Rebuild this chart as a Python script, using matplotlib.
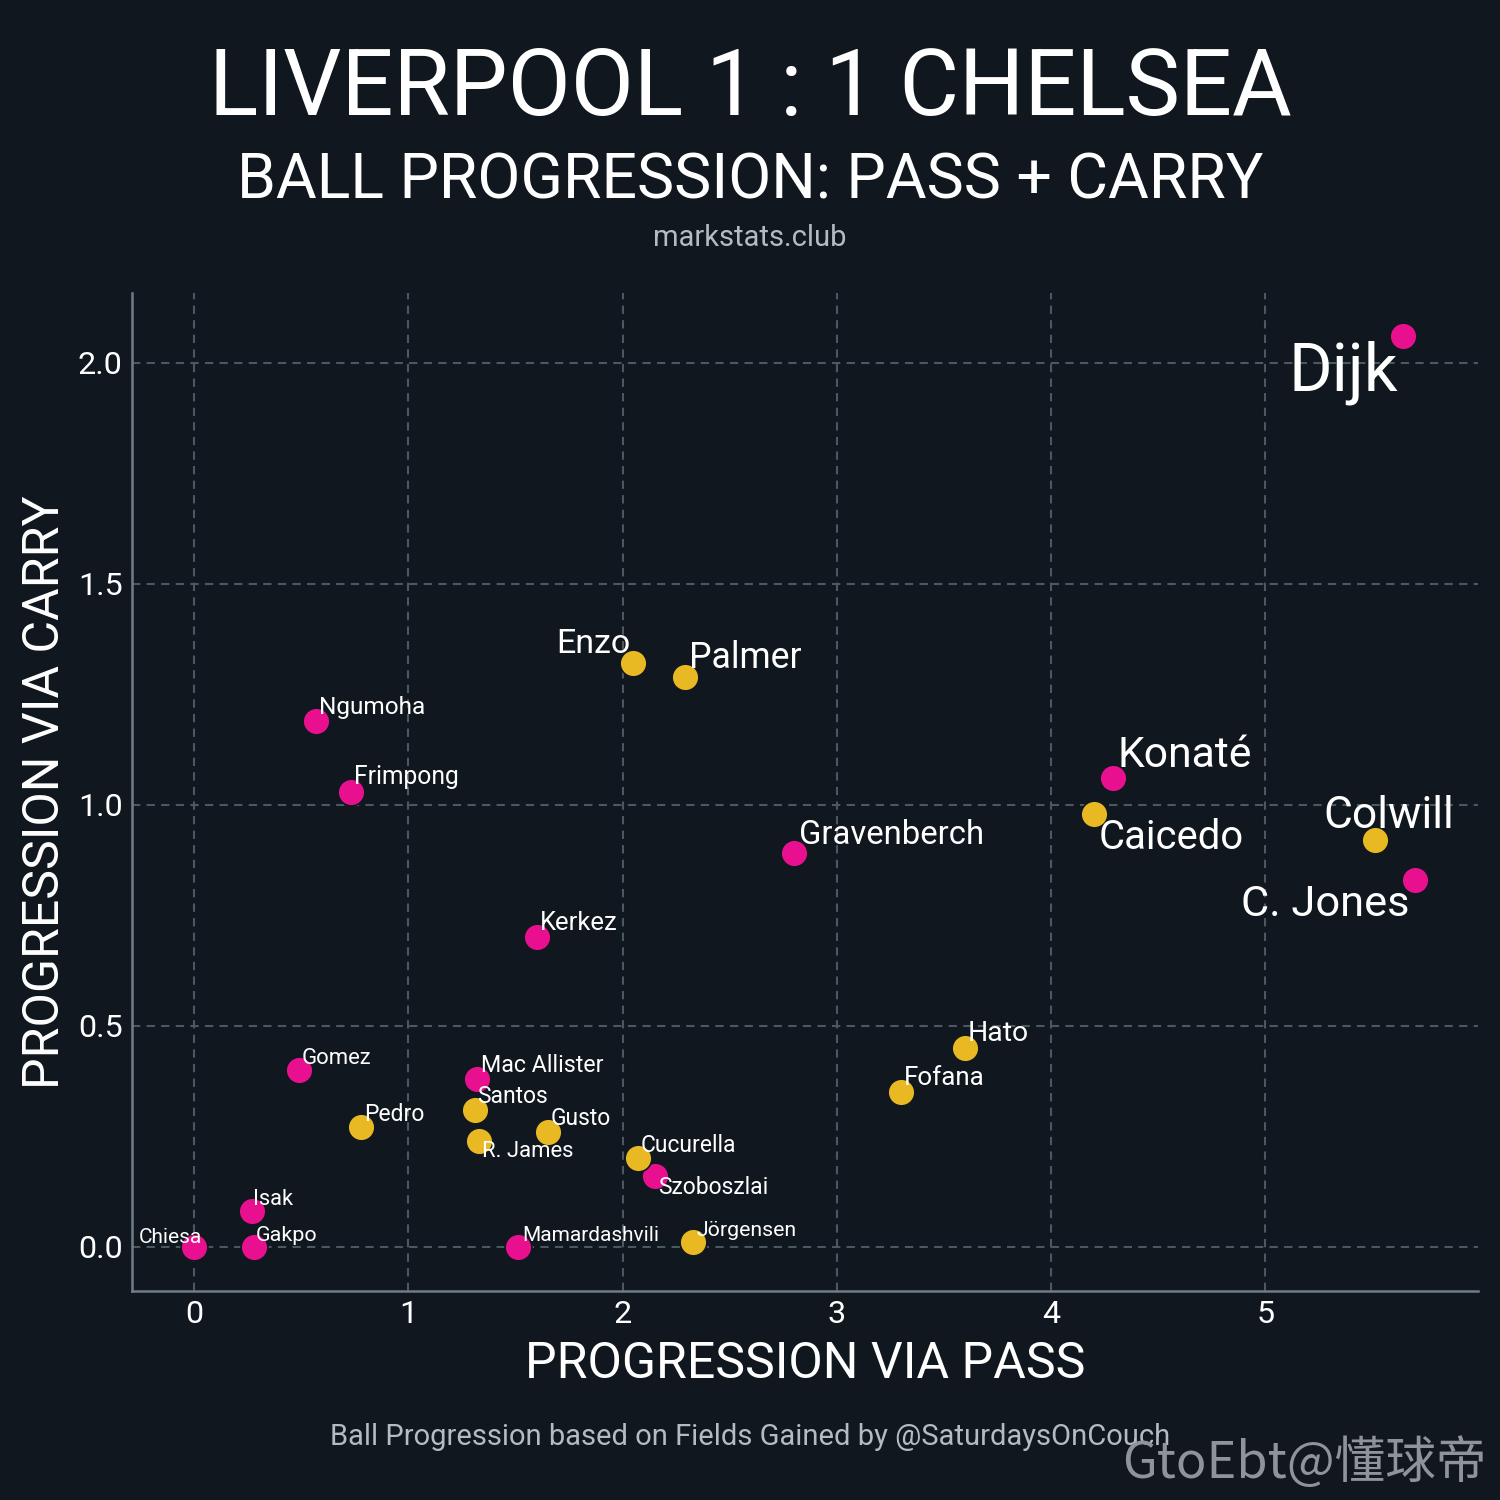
import matplotlib.pyplot as plt

# DATA --------------------------------------------------
liv_names = ['Dijk', 'C. Jones', 'Konaté', 'Gravenberch', 'Kerkez', 'Ngumoha',
             'Frimpong', 'Gomez', 'Mac Allister', 'Szoboszlai', 'Mamardashvili',
             'Isak', 'Gakpo', 'Chiesa']
liv_pass = [5.64, 5.70, 4.29, 2.80, 1.60, 0.57, 0.73, 0.49, 1.32, 2.15, 1.51, 0.27, 0.28, 0.0]
liv_carry = [2.06, 0.83, 1.06, 0.89, 0.70, 1.19, 1.03, 0.40, 0.38, 0.16, 0.0, 0.08, 0.0, 0.0]

che_names = ['Colwill', 'Caicedo', 'Palmer', 'Enzo', 'Hato', 'Fofana', 'Gusto',
             'Santos', 'R. James', 'Pedro', 'Cucurella', 'Jörgensen']
che_pass = [5.51, 4.20, 2.29, 2.05, 3.60, 3.30, 1.65, 1.31, 1.33, 0.78, 2.07, 2.33]
che_carry = [0.92, 0.98, 1.29, 1.32, 0.45, 0.35, 0.26, 0.31, 0.24, 0.27, 0.20, 0.01]

x_ticks = [0, 1, 2, 3, 4, 5]
y_ticks = [0.0, 0.5, 1.0, 1.5, 2.0]
# -------------------------------------------------------

BG = '#10171e'
PINK = '#e8108f'
YELLOW = '#e8b923'
GRID = '#4a5862'
SPINE = '#6f7d84'
GREY = '#b4bcc2'

plt.rcParams['font.family'] = ['Roboto', 'DejaVu Sans']

# label style: (dx, dy, ha, va, fontsize)
default_style = (1.2, 3.2, 'left', 'baseline', 11)
label_style = {
    'Dijk': (-2, -2, 'right', 'top', 32),
    'C. Jones': (-3, -2, 'right', 'top', 20.8),
    'Colwill': (7, 6, 'center', 'baseline', 21.3),
    'Konaté': (2, 5.5, 'left', 'baseline', 20.5),
    'Caicedo': (2, -2, 'left', 'top', 19.2),
    'Palmer': (2, 4, 'left', 'baseline', 17.1),
    'Enzo': (-1.5, 5, 'right', 'baseline', 16.3),
    'Gravenberch': (2.5, 4.5, 'left', 'baseline', 15.8),
    'Hato': (1, 3.5, 'left', 'baseline', 13.6),
    'Fofana': (1.5, 3.5, 'left', 'baseline', 12.5),
    'Kerkez': (1.5, 3.5, 'left', 'baseline', 12.3),
    'Ngumoha': (1.5, 3.5, 'left', 'baseline', 11.7),
    'Frimpong': (1.5, 3.5, 'left', 'baseline', 11.8),
    'Mac Allister': (2, 3.5, 'left', 'baseline', 11.2),
    'R. James': (1.5, 0, 'left', 'top', 10.6),
    'Szoboszlai': (1.5, 0, 'left', 'top', 11),
    'Chiesa': (4, 2, 'right', 'baseline', 10),
    'Gomez': (1, 3, 'left', 'baseline', 10.6),
    'Isak': (0.5, 3, 'left', 'baseline', 10.5),
    'Gakpo': (1, 3, 'left', 'baseline', 10.3),
    'Mamardashvili': (2, 3, 'left', 'baseline', 10),
    'Jörgensen': (1.5, 3, 'left', 'baseline', 10.2),
}

fig = plt.figure(figsize=(10, 10), dpi=150, facecolor=BG)
ax = fig.add_axes([0.088, 0.1393, 0.897, 0.6654])
ax.set_facecolor(BG)

ax.scatter(liv_pass, liv_carry, s=165, color=PINK, edgecolor=BG, linewidth=0.8, zorder=3)
ax.scatter(che_pass, che_carry, s=165, color=YELLOW, edgecolor=BG, linewidth=0.8, zorder=3)

for names, xs, ys in [(liv_names, liv_pass, liv_carry), (che_names, che_pass, che_carry)]:
    for n, xv, yv in zip(names, xs, ys):
        dx, dy, ha, va, fs = label_style.get(n, default_style)
        ax.annotate(n, (xv, yv), xytext=(dx, dy), textcoords='offset points',
                    ha=ha, va=va, fontsize=fs, color='white', zorder=4)

ax.set_xlim(-0.29, 5.99)
ax.set_ylim(-0.1, 2.158)
ax.set_xticks(x_ticks)
ax.set_yticks(y_ticks)
ax.set_yticklabels(['%.1f' % v for v in y_ticks])
ax.grid(True, color=GRID, linestyle=(0, (4, 3)), linewidth=1.0, zorder=0)
ax.tick_params(colors='white', labelsize=15.5, length=0, pad=4.5)
for s in ['top', 'right']:
    ax.spines[s].set_visible(False)
for s in ['left', 'bottom']:
    ax.spines[s].set_color(SPINE)
    ax.spines[s].set_linewidth(1.2)

ax.set_xlabel('PROGRESSION VIA PASS', color='white', fontsize=24, labelpad=5)
ax.set_ylabel('PROGRESSION VIA CARRY', color='white', fontsize=24, labelpad=4)

# TITLES ------------------------------------------------
fig.text(0.5, 0.940, 'LIVERPOOL 1 : 1 CHELSEA', ha='center', va='center',
         fontsize=44, color='white')
fig.text(0.5, 0.879, 'BALL PROGRESSION: PASS + CARRY', ha='center', va='center',
         fontsize=30, color='white')
fig.text(0.5, 0.841, 'markstats.club', ha='center', va='center',
         fontsize=14, color=GREY)
fig.text(0.5, 0.042, 'Ball Progression based on Fields Gained by @SaturdaysOnCouch',
         ha='center', va='center', fontsize=14, color=GREY)
fig.text(0.991, 0.024, 'GtoEbt@懂球帝', ha='right', va='center', fontsize=24.3,
         color='#8e9499', family=['Noto Sans CJK SC', 'DejaVu Sans'])

fig.savefig('out.png', dpi=150, facecolor=BG)
